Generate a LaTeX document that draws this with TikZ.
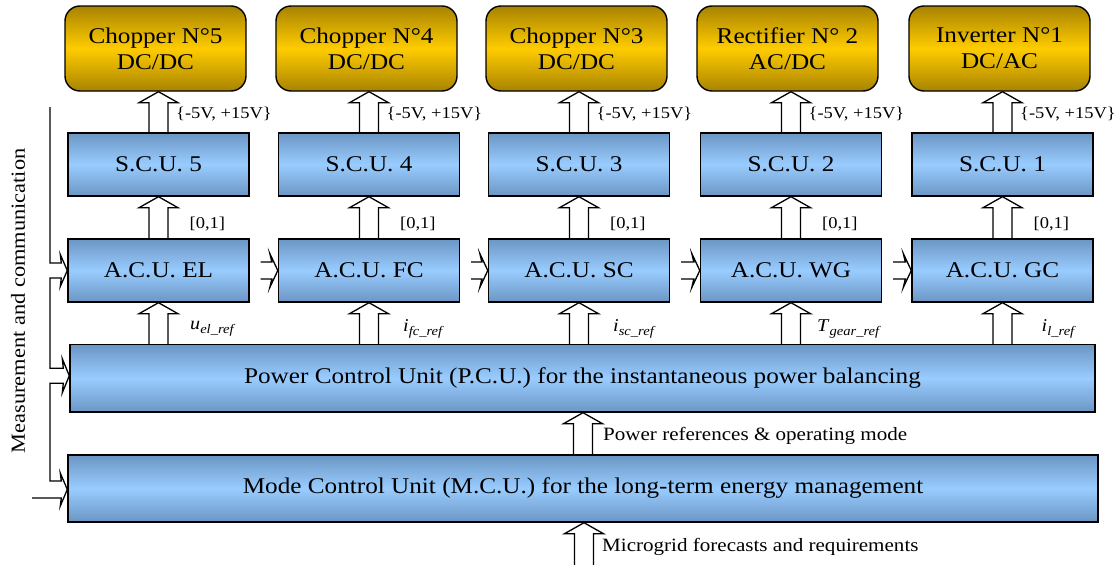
\documentclass[tikz,border=0pt]{standalone}
\usepackage{fontspec}
\setmainfont{Liberation Serif}[FakeStretch=1.12]
\usetikzlibrary{calc}
\definecolor{bluetop}{HTML}{6B96C4}
\definecolor{bluemid}{HTML}{99CCFF}
\definecolor{goldtop}{HTML}{A88300}
\definecolor{goldmid}{HTML}{FFCC00}
\pgfdeclarelayer{bg}
\pgfsetlayers{bg,main}
\newcommand\vblk[2]{%
  \draw[barrow] ($(#1)+(-9.5,0)$) -- ($(#2)+(-9.5,11)$) -- ($(#2)+(-19.5,11)$) -- (#2)
    -- ($(#2)+(19.5,11)$) -- ($(#2)+(9.5,11)$) -- ($(#1)+(9.5,0)$);}
\newcommand\hblk[2]{%
  \draw[barrow] ($(#1)+(0,-8.5)$) -- ($(#2)+(-6,-8.5)$) -- ($(#2)+(-8,-17)$) -- (#2)
    -- ($(#2)+(-8,17)$) -- ($(#2)+(-6,8.5)$) -- ($(#1)+(0,8.5)$);}
\newcommand\refl[2]{\textit{#1}\raisebox{-0.45ex}{\fontsize{13}{13}\selectfont\textit{#2}}}
\begin{document}
\begin{tikzpicture}[x=1pt,y=-1pt,
  bluebox/.style={draw, line width=1.4pt, top color=bluetop, bottom color=bluetop, middle color=bluemid,
    minimum width=181pt, minimum height=63pt, inner sep=0pt, font=\fontsize{22.5}{26}\selectfont},
  widebox/.style={bluebox, minimum height=67pt},
  goldbox/.style={draw, line width=1.4pt, rounded corners=15pt, top color=goldtop, bottom color=goldtop,
    middle color=goldmid, minimum width=181pt, minimum height=85pt, inner sep=0pt, align=center,
    font=\fontsize{22.5}{26}\selectfont},
  barrow/.style={draw, fill=white, line width=1.3pt, line join=miter},
  busline/.style={draw, line width=1.3pt, line join=miter},
  lbl/.style={anchor=west, inner sep=0pt, font=\fontsize{16.5}{19}\selectfont},
  biglbl/.style={anchor=west, inner sep=0pt, font=\fontsize{18.8}{22}\selectfont},
  reflbl/.style={anchor=west, inner sep=0pt, font=\fontsize{18}{20}\selectfont}]
\useasboundingbox (0,0) rectangle (1120,565);

% converters
\node[goldbox] (ch5) at (155.5,48.5) {Chopper N°5\\DC/DC};
\node[goldbox] (ch4) at (366.5,48.5) {Chopper N°4\\DC/DC};
\node[goldbox] (ch3) at (576.5,48.5) {Chopper N°3\\DC/DC};
\node[goldbox] (ch2) at (787.5,48.5) {Rectifier N° 2\\AC/DC};
\node[goldbox] (ch1) at (999.5,48.5) {Inverter N°1\\DC/AC};

% S.C.U.
\node[bluebox] (scu5) at (158.5,164.5) {S.C.U. 5};
\node[bluebox] (scu4) at (369,164.5) {S.C.U. 4};
\node[bluebox] (scu3) at (579,164.5) {S.C.U. 3};
\node[bluebox] (scu2) at (791,164.5) {S.C.U. 2};
\node[bluebox] (scu1) at (1002.5,164.5) {S.C.U. 1};

% A.C.U.
\node[bluebox] (acu5) at (158.5,270.5) {A.C.U. EL};
\node[bluebox] (acu4) at (369,270.5) {A.C.U. FC};
\node[bluebox] (acu3) at (579,270.5) {A.C.U. SC};
\node[bluebox] (acu2) at (791,270.5) {A.C.U. WG};
\node[bluebox] (acu1) at (1002.5,270.5) {A.C.U. GC};

% P.C.U. and M.C.U.
\node[widebox, minimum width=1025pt, minimum height=67.5pt] (pcu) at (582.5,378.25)
  {Power Control Unit (P.C.U.) for the instantaneous power balancing};
\node[widebox, minimum width=1030pt] (mcu) at (583,488.5)
  {Mode Control Unit (M.C.U.) for the long-term energy management};

% labels
\foreach \n in {1,...,5} {
  \node[lbl] (v\n) at ($(scu\n.north)+(17.5,-18)$) {\{-5V, +15V\}};
  \node[lbl] (d\n) at ($(scu\n.south)+(31,27)$) {[0,1]};
}
\node[reflbl] (r5) at ($(acu5.south)+(31.5,26)$) {\refl{u}{el\_ref}};
\node[reflbl] (r4) at ($(acu4.south)+(34,26)$) {\refl{i}{fc\_ref}};
\node[reflbl] (r3) at ($(acu3.south)+(34,26)$) {\refl{i}{sc\_ref}};
\node[reflbl] (r2) at ($(acu2.south)+(26,26)$) {\refl{T}{gear\_ref}};
\node[reflbl] (r1) at ($(acu1.south)+(39,26)$) {\refl{i}{l\_ref}};

\node[biglbl] (prl) at (603,436) {Power references \& operating mode};
\node[biglbl] (mfl) at (602,547) {Microgrid forecasts and requirements};

\node[rotate=90, inner sep=0pt, font=\fontsize{20}{24}\selectfont] (mc) at (18,301)
  {Measurement and communication};

% coordinates
\coordinate (bustop) at (50,107);
\coordinate (extin) at (32,498);
\coordinate (mcuin) at (584,565);
\coordinate (pcuIn) at ($(pcu.west)+(0,-2.5)$);
\coordinate (mcuIn) at ($(mcu.west)+(0,1)$);
\foreach \n in {1,...,5} {
  \coordinate (tA\n) at (scu\n.north |- ch\n.south);
  \coordinate (bP\n) at (acu\n.south |- pcu.north);
}
\coordinate (h4) at ($(acu5.east)+(11,0)$);
\coordinate (h3) at ($(acu4.east)+(11,0)$);
\coordinate (h2) at ($(acu3.east)+(11,0)$);
\coordinate (h1) at ($(acu2.east)+(11,0)$);
\coordinate (tP) at (mcu.north |- pcu.south);
\coordinate (tM) at (mcuin |- mcu.south);

\begin{pgfonlayer}{bg}
\foreach \n in {1,...,5} {
  \vblk{scu\n.north}{tA\n}
  \vblk{acu\n.north}{scu\n.south}
  \vblk{bP\n}{acu\n.south}
}
\hblk{h4}{acu4.west}
\hblk{h3}{acu3.west}
\hblk{h2}{acu2.west}
\hblk{h1}{acu1.west}
\vblk{mcu.north}{tP}
\vblk{mcuin}{tM}
% measurement bus
\draw[busline] (bustop) -- ($(bustop |- acu5.west)+(0,-7.5)$) -- ($(acu5.west)+(-6,-7.5)$)
  -- ($(acu5.west)+(-7,-16)$) -- (acu5.west) -- ($(acu5.west)+(-7,16)$) -- ($(acu5.west)+(-6,7.5)$)
  -- ($(bustop |- acu5.west)+(0,7.5)$) -- ($(bustop |- pcuIn)+(0,-7.5)$) -- ($(pcuIn)+(-6,-7.5)$)
  -- ($(pcuIn)+(-7,-17)$) -- (pcuIn) -- ($(pcuIn)+(-7,17)$) -- ($(pcuIn)+(-6,7.5)$)
  -- ($(bustop |- pcuIn)+(0,7.5)$) -- ($(bustop |- mcuIn)+(0,-8.5)$) -- ($(mcuIn)+(-6,-8.5)$)
  -- ($(mcuIn)+(-7,-16.5)$) -- (mcuIn) -- ($(mcuIn)+(-7,16.5)$) -- ($(mcuIn)+(-6,8.5)$)
  -- (extin);
\end{pgfonlayer}
\end{tikzpicture}
\end{document}
